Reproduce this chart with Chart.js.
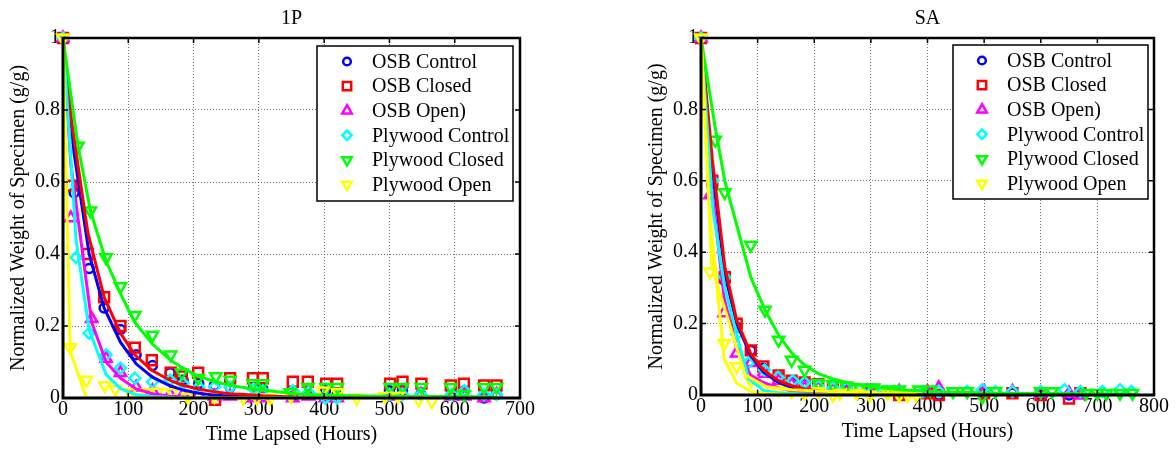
<!DOCTYPE html>
<html lang="en">
<head>
<meta charset="UTF-8">
<title>Drying curves 1P / SA</title>
<script src="https://cdn.jsdelivr.net/npm/chart.js"></script>
<style>
  body { margin: 0; background: #fff; }
  .plot { position: absolute; top: 0; height: 449px; }
  #left { left: 0; width: 540px; }
  #right { left: 640px; width: 536px; }
</style>
</head>
<body>
<div class="plot" id="left"><canvas id="chart1P"></canvas></div>
<div class="plot" id="right"><canvas id="chartSA"></canvas></div>
<script>
// ---- 1P panel: measured (y) and fitted (f) values at each time (t) ----
const t1_osbControl = [0, 17, 40, 63, 88, 112, 137, 164, 184, 208, 232, 256, 292, 306, 352, 376, 402, 420, 500, 520, 548, 595, 615, 645, 664];
const y1_osbControl = [1, 0.57, 0.36, 0.25, 0.19, 0.12, 0.09, 0.07, 0.05, 0.04, 0.035, 0.03, 0.03, 0.025, 0.005, 0.01, 0.02, 0.01, 0.02, 0.02, 0.01, 0.01, 0.02, 0.0, 0.01];
const f1_osbControl = [1, 0.68, 0.40, 0.25, 0.155, 0.095, 0.058, 0.034, 0.022, 0.013, 0.008, 0.005, 0.003, 0.002, 0.001, 0, 0, 0, 0, 0, 0, 0, 0, 0, 0];

const t1_osbClosed = [0, 13, 38, 63, 88, 110, 136, 165, 182, 207, 233, 256, 291, 306, 352, 375, 403, 420, 501, 520, 549, 594, 614, 645, 664];
const y1_osbClosed = [1, 0.59, 0.40, 0.28, 0.20, 0.14, 0.105, 0.07, 0.06, 0.07, -0.005, 0.055, 0.055, 0.055, 0.045, 0.045, 0.04, 0.04, 0.04, 0.045, 0.04, 0.035, 0.04, 0.035, 0.035];
const f1_osbClosed = [1, 0.77, 0.46, 0.28, 0.18, 0.12, 0.077, 0.048, 0.036, 0.025, 0.017, 0.012, 0.008, 0.006, 0.003, 0.002, 0.001, 0.001, 0, 0, 0, 0, 0, 0, 0];

const t1_osbOpen = [0, 12, 44, 66, 88, 112, 137, 164, 184, 208, 232, 256, 292, 306, 352, 376, 402, 420, 500, 520, 548, 595, 615, 645, 664];
const y1_osbOpen = [1, 0.50, 0.22, 0.11, 0.07, 0.03, 0.02, 0.01, 0.01, 0.01, 0.005, 0.005, 0.0, 0.0, 0.0, 0.005, 0.0, 0.0, 0.005, 0.01, 0.01, 0.005, 0.005, 0.0, 0.01];
const f1_osbOpen = [1, 0.65, 0.21, 0.10, 0.055, 0.025, 0.012, 0.005, 0.003, 0.001, 0, 0, 0, 0, 0, 0, 0, 0, 0, 0, 0, 0, 0, 0, 0];

const t1_plyControl = [0, 20, 40, 66, 88, 110, 137, 164, 184, 208, 232, 256, 292, 306, 352, 376, 402, 420, 500, 520, 548, 595, 615, 645, 664];
const y1_plyControl = [1, 0.39, 0.18, 0.12, 0.083, 0.055, 0.045, 0.05, 0.04, 0.03, 0.03, 0.03, 0.025, 0.02, 0.02, 0.015, 0.0, 0.0, 0.01, 0.01, 0.01, 0.01, 0.02, 0.01, 0.01];
const f1_plyControl = [1, 0.44, 0.19, 0.065, 0.026, 0.01, 0.004, 0.002, 0.001, 0, 0, 0, 0, 0, 0, 0, 0, 0, 0, 0, 0, 0, 0, 0, 0];

const t1_plyClosed = [0, 23, 42, 66, 88, 110, 137, 165, 182, 207, 234, 256, 291, 306, 348, 375, 403, 420, 501, 520, 549, 594, 614, 645, 664];
const y1_plyClosed = [1, 0.70, 0.52, 0.39, 0.31, 0.23, 0.175, 0.12, 0.07, 0.055, 0.06, 0.05, 0.04, 0.04, 0.015, 0.03, 0.03, 0.03, 0.03, 0.03, 0.03, 0.03, 0.01, 0.03, 0.03];
const f1_plyClosed = [1, 0.70, 0.52, 0.38, 0.29, 0.21, 0.15, 0.105, 0.085, 0.06, 0.045, 0.035, 0.025, 0.022, 0.013, 0.01, 0.008, 0.007, 0.005, 0.005, 0.004, 0.004, 0.004, 0.003, 0.003];

const t1_plyOpen = [0, 11, 36, 64, 80, 103, 126, 145, 167, 191, 232, 276, 297, 317, 349, 398, 421, 450, 493, 513, 545, 565];
const y1_plyOpen = [1, 0.14, 0.05, 0.035, 0.025, 0.015, 0.015, 0.017, 0.015, 0.003, 0.005, 0.0, 0.0, 0.0, 0.005, 0.02, 0.015, 0.0, 0.005, 0.005, -0.005, -0.01];
const f1_plyOpen = [1, 0.13, 0, 0, 0, 0, 0, 0, 0, 0, 0, 0, 0, 0, 0, 0, 0, 0, 0, 0, 0, 0];

// ---- SA panel ----
const t2_osbControl = [0, 20, 42, 63, 88, 110, 137, 160, 183, 207, 233, 257, 300, 350, 400, 420, 500, 550, 600, 650, 670];
const y2_osbControl = [1, 0.58, 0.32, 0.19, 0.125, 0.075, 0.05, 0.035, 0.03, 0.025, 0.02, 0.015, 0.01, 0.005, 0.005, 0.0, 0.005, 0.005, 0.0, 0.0, 0.005];
const f2_osbControl = [1, 0.63, 0.34, 0.2, 0.11, 0.065, 0.035, 0.021, 0.013, 0.008, 0.005, 0.003, 0.001, 0, 0, 0, 0, 0, 0, 0, 0];

const t2_osbClosed = [0, 20, 42, 63, 88, 110, 137, 160, 183, 207, 233, 257, 300, 350, 400, 420, 500, 550, 600, 650, 670];
const y2_osbClosed = [1, 0.60, 0.33, 0.20, 0.125, 0.08, 0.055, 0.04, 0.035, 0.03, 0.025, 0.02, 0.015, 0.0, 0.005, 0.0, 0.005, 0.005, 0.0, -0.01, 0.005];
const f2_osbClosed = [1, 0.66, 0.36, 0.21, 0.115, 0.07, 0.04, 0.026, 0.017, 0.011, 0.007, 0.005, 0.003, 0.001, 0, 0, 0, 0, 0, 0, 0];

const t2_osbOpen = [0, 16, 41, 63, 88, 110, 137, 160, 183, 207, 233, 257, 300, 350, 400, 420, 500, 550, 600, 650, 670];
const y2_osbOpen = [1, 0.56, 0.23, 0.117, 0.09, 0.06, 0.04, 0.03, 0.02, 0.02, 0.015, 0.01, 0.01, 0.01, 0.01, 0.02, 0.01, 0.01, 0.005, 0.005, 0.0];
const f2_osbOpen = [1, 0.62, 0.27, 0.13, 0.055, 0.035, 0.02, 0.012, 0.007, 0.004, 0.002, 0.001, 0, 0, 0, 0, 0, 0, 0, 0, 0];

const t2_plyControl = [0, 21, 42, 63, 84, 112, 136, 162, 183, 207, 233, 257, 280, 305, 328, 350, 392, 420, 470, 497, 520, 550, 600, 642, 670, 709, 740, 760];
const y2_plyControl = [1, 0.6, 0.33, 0.17, 0.09, 0.07, 0.05, 0.04, 0.035, 0.025, 0.02, 0.02, 0.015, 0.015, 0.01, 0.01, 0.01, 0.01, 0.01, 0.015, 0.01, 0.01, 0.01, 0.015, 0.01, 0.01, 0.015, 0.01];
const f2_plyControl = [1, 0.52, 0.30, 0.17, 0.045, 0.012, 0.006, 0.004, 0.003, 0.002, 0.001, 0, 0, 0, 0, 0, 0, 0, 0, 0, 0, 0, 0, 0, 0, 0, 0, 0];

const t2_plyClosed = [0, 25, 42, 88, 113, 137, 160, 183, 207, 233, 257, 280, 305, 330, 350, 385, 405, 445, 470, 497, 520, 600, 620, 680, 700, 716, 740, 762];
const y2_plyClosed = [1, 0.714, 0.567, 0.42, 0.238, 0.154, 0.098, 0.07, 0.033, 0.03, 0.025, 0.02, 0.02, 0.015, 0.015, 0.015, 0.015, 0.01, 0.01, -0.005, 0.01, 0.01, 0.01, 0.005, 0.005, 0.005, 0.005, 0.005];
const f2_plyClosed = [1, 0.75, 0.6, 0.33, 0.238, 0.168, 0.118, 0.084, 0.06, 0.045, 0.035, 0.028, 0.022, 0.018, 0.015, 0.012, 0.01, 0.008, 0.007, 0.006, 0.005, 0.004, 0.004, 0.003, 0.003, 0.003, 0.003, 0.003];

const t2_plyOpen = [0, 16, 41, 63, 88, 112, 137, 160, 183, 207, 233, 245, 275, 298, 330, 350, 365, 380];
const y2_plyOpen = [1, 0.345, 0.145, 0.08, 0.04, 0.02, 0.015, 0.01, 0.005, 0.01, 0.0, 0.005, 0.005, 0.0, 0.005, 0.0, 0.0, 0.0];
const f2_plyOpen = [1, 0.5, 0.1, 0.033, 0.01, 0.004, 0.002, 0.001, 0, 0, 0, 0, 0, 0, 0, 0, 0, 0];
// second yellow curve drawn in the SA panel
const t2_plyOpenB = [0, 19, 78, 116, 160, 228, 300, 380];
const f2_plyOpenB = [1, 0.36, 0.056, 0.023, 0.015, 0.01, 0.005, 0.003];

const names = ["OSB Control", "OSB Closed", "OSB Open)", "Plywood Control", "Plywood Closed", "Plywood Open"];
const colors = ["#0000ff", "#ff0000", "#ff00ff", "#00ffff", "#00ff00", "#ffff00"];
const markers = [
    {style: "circle", r: 4.5, rot: 0},
    {style: "rect", r: 7, rot: 0},
    {style: "triangle", r: 6.5, rot: 0},
    {style: "rectRot", r: 5.5, rot: 0},
    {style: "triangle", r: 6.5, rot: 180},
    {style: "triangle", r: 6.5, rot: 180}
];

const FONT = '"Liberation Serif", "Times New Roman", serif';

function pts(t, v) {
    return t.map((x, i) => ({x: x, y: v[i]}));
}

function buildDatasets(series, extra) {
    let sets = [];
    series.forEach((s, i) => {
        sets.push({
            label: names[i],
            data: pts(s.t, s.y),
            showLine: false,
            borderColor: colors[i],
            backgroundColor: "rgba(0,0,0,0)",
            pointStyle: markers[i].style,
            pointRadius: markers[i].r,
            pointRotation: markers[i].rot,
            pointBorderWidth: 2.5,
            pointBackgroundColor: "rgba(0,0,0,0)",
            clip: false,
            order: 20 - i
        });
    });
    series.forEach((s, i) => {
        sets.push({
            label: names[i] + " fit",
            data: pts(s.t, s.f),
            showLine: true,
            borderColor: colors[i],
            borderWidth: 3,
            pointRadius: 0,
            order: 10 - i
        });
    });
    (extra || []).forEach(e => {
        sets.push({
            label: e.label,
            data: pts(e.t, e.f),
            showLine: true,
            borderColor: e.color,
            borderWidth: 3,
            pointRadius: 0,
            order: 4
        });
    });
    return sets;
}

// title, box frame with inward ticks, boxed legend
const decorPlugin = {
    id: "decor",
    afterDraw(chart, args, o) {
        const ctx = chart.ctx;
        const a = chart.chartArea;
        const xs = chart.scales.x, ys = chart.scales.y;
        ctx.save();
        ctx.strokeStyle = "#000";
        ctx.lineWidth = 1.5;
        ctx.beginPath();
        xs.ticks.forEach(t => {
            const px = xs.getPixelForValue(t.value);
            ctx.moveTo(px, a.top); ctx.lineTo(px, a.top + 5);
            ctx.moveTo(px, a.bottom); ctx.lineTo(px, a.bottom - 5);
        });
        ys.ticks.forEach(t => {
            const py = ys.getPixelForValue(t.value);
            ctx.moveTo(a.left, py); ctx.lineTo(a.left + 5, py);
            ctx.moveTo(a.right, py); ctx.lineTo(a.right - 5, py);
        });
        ctx.stroke();
        ctx.lineWidth = 2.5;
        ctx.beginPath();
        ctx.moveTo(a.left, a.top); ctx.lineTo(a.right, a.top); ctx.lineTo(a.right, a.bottom);
        ctx.stroke();
        ctx.lineWidth = 3;
        ctx.beginPath();
        ctx.moveTo(a.left, a.top - 1.2); ctx.lineTo(a.left, a.bottom); ctx.lineTo(a.right + 1.2, a.bottom);
        ctx.stroke();

        ctx.fillStyle = "#000";
        ctx.font = "20px " + FONT;
        ctx.textAlign = "center";
        ctx.textBaseline = "middle";
        ctx.fillText(o.title, (a.left + a.right) / 2, 19);

        // legend
        const bx = a.right - o.legendRight - o.legendW;
        const by = a.top + o.legendTop;
        ctx.fillStyle = "#fff";
        ctx.fillRect(bx, by, o.legendW, o.legendH);
        ctx.lineWidth = 1.5;
        ctx.strokeStyle = "#000";
        ctx.strokeRect(bx, by, o.legendW, o.legendH);
        ctx.textAlign = "left";
        names.forEach((n, i) => {
            const cy = by + 15.5 + i * 24.6;
            ctx.strokeStyle = colors[i];
            ctx.fillStyle = "rgba(0,0,0,0)";
            ctx.lineWidth = 2.5;
            Chart.helpers.drawPoint(ctx, {
                pointStyle: markers[i].style,
                radius: markers[i].r * 0.85,
                rotation: markers[i].rot,
                borderWidth: 2.5
            }, bx + o.markerDx, cy);
            ctx.fillStyle = "#000";
            ctx.fillText(n, bx + o.textDx, cy + 1);
        });
        ctx.restore();
    }
};

function makeChart(id, series, extra, cfg) {
    const tickFont = {family: FONT, size: 20, lineHeight: 1};
    return new Chart(document.getElementById(id), {
        type: "scatter",
        data: {datasets: buildDatasets(series, extra)},
        options: {
            responsive: true,
            maintainAspectRatio: false,
            animation: false,
            layout: {padding: {top: 38, right: cfg.padRight, bottom: 0, left: 0}},
            plugins: {
                legend: {display: false},
                tooltip: {enabled: false},
                title: {display: false},
                decor: cfg.decor
            },
            scales: {
                x: {
                    type: "linear",
                    min: 0,
                    max: cfg.xMax,
                    ticks: {stepSize: 100, font: tickFont, color: "#000", padding: 2, maxRotation: 0, autoSkip: false},
                    grid: {color: "rgba(0,0,0,0.55)", lineWidth: 1, drawTicks: false},
                    border: {display: false, dash: [1, 2]},
                    title: {display: true, text: "Time Lapsed (Hours)", color: "#000",
                            font: {family: FONT, size: 20, lineHeight: 1}, padding: {top: 0, bottom: cfg.xTitlePad}},
                    afterFit: s => { s.height = cfg.xH; }
                },
                y: {
                    min: 0,
                    max: 1,
                    ticks: {stepSize: 0.2, font: tickFont, color: "#000", padding: 3,
                            callback: v => String(Number(v.toFixed(2)))},
                    grid: {color: "rgba(0,0,0,0.55)", lineWidth: 1, drawTicks: false},
                    border: {display: false, dash: [1, 2]},
                    title: {display: true, text: "Normalized Weight of Specimen (g/g)", color: "#000",
                            font: {family: FONT, size: 20, lineHeight: 1}, padding: {top: cfg.yTitlePad, bottom: 0}},
                    afterFit: s => { s.width = cfg.yW; }
                }
            }
        },
        plugins: [decorPlugin]
    });
}

const series1 = [
    {t: t1_osbControl, y: y1_osbControl, f: f1_osbControl},
    {t: t1_osbClosed, y: y1_osbClosed, f: f1_osbClosed},
    {t: t1_osbOpen, y: y1_osbOpen, f: f1_osbOpen},
    {t: t1_plyControl, y: y1_plyControl, f: f1_plyControl},
    {t: t1_plyClosed, y: y1_plyClosed, f: f1_plyClosed},
    {t: t1_plyOpen, y: y1_plyOpen, f: f1_plyOpen}
];
const series2 = [
    {t: t2_osbControl, y: y2_osbControl, f: f2_osbControl},
    {t: t2_osbClosed, y: y2_osbClosed, f: f2_osbClosed},
    {t: t2_osbOpen, y: y2_osbOpen, f: f2_osbOpen},
    {t: t2_plyControl, y: y2_plyControl, f: f2_plyControl},
    {t: t2_plyClosed, y: y2_plyClosed, f: f2_plyClosed},
    {t: t2_plyOpen, y: y2_plyOpen, f: f2_plyOpen}
];

makeChart("chart1P", series1, [], {
    xMax: 700, padRight: 20, xH: 51, yW: 63, xTitlePad: 4, yTitlePad: 8.5,
    decor: {title: "1P", legendRight: 7, legendTop: 8, legendW: 196, legendH: 155, markerDx: 30, textDx: 55}
});
makeChart("chartSA", series2, [{label: "Plywood Open fit 2", t: t2_plyOpenB, f: f2_plyOpenB, color: "#ffff00"}], {
    xMax: 800, padRight: 22, xH: 54, yW: 61, xTitlePad: 7, yTitlePad: 7,
    decor: {title: "SA", legendRight: 6, legendTop: 7, legendW: 195, legendH: 154, markerDx: 29, textDx: 54}
});
</script>
</body>
</html>
